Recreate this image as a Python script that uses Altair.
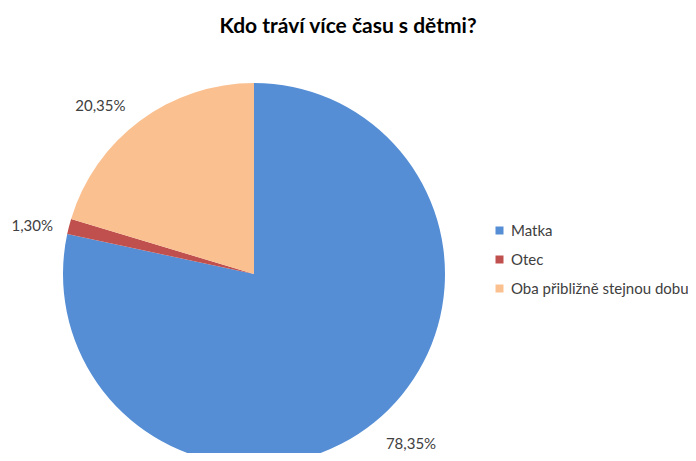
import altair as alt
import pandas as pd

categories = ["Matka", "Otec", "Oba přibližně stejnou dobu"]
values = [78.35, 1.30, 20.35]
labels = ["78,35%", "1,30%", "20,35%"]
colors = ["#558ED5", "#C0504D", "#FAC090"]
order = [0, 1, 2]

df = pd.DataFrame({"kat": categories, "hodnota": values, "popisek": labels, "poradi": order})

cx, cy = 246, 221
R = 191

base = alt.Chart(df).encode(
    theta=alt.Theta("hodnota:Q", stack=True),
    order=alt.Order("poradi:Q"),
    x=alt.value(cx),
    y=alt.value(cy),
)

arcs = base.mark_arc(radius=R, strokeWidth=0).encode(
    color=alt.Color(
        "kat:N",
        scale=alt.Scale(domain=categories, range=colors),
        sort=categories,
        legend=alt.Legend(
            title=None,
            orient="none",
            legendX=484,
            legendY=170,
            symbolType="square",
            symbolSize=64,
            symbolStrokeWidth=0,
            labelFont="Lato",
            labelFontSize=15,
            labelColor="#404040",
            rowPadding=13,
            padding=0,
            labelOffset=4,
            labelLimit=300,
        ),
    )
)

# style offsets per label (Excel "outside end" placement)
offsets = {"Matka": (13, -8), "Otec": (0, 9), "Oba přibližně stejnou dobu": (-17, 16)}
text_layers = []
for kat, (ddx, ddy) in offsets.items():
    text_layers.append(
        base.mark_text(radius=229, font="Lato", fontSize=15, color="#404040", dx=ddx, dy=ddy)
        .encode(text="popisek:N", opacity=alt.condition(alt.datum.kat == kat, alt.value(1), alt.value(0)))
    )

chart = (
    alt.layer(arcs, *text_layers)
    .properties(
        width=680,
        height=400,
        title=alt.TitleParams(
            "Kdo tráví více času s dětmi?",
            font="Lato",
            fontSize=21,
            fontWeight="bold",
            color="#000000",
            anchor="middle",
            offset=16,
        ),
        autosize=alt.AutoSizeParams(type="none"),
        padding={"top": 45, "left": 0, "right": 0, "bottom": 0},
    )
    .configure_view(stroke=None)
)

chart.save("out.html", embed_options={"renderer": "svg", "actions": False})
